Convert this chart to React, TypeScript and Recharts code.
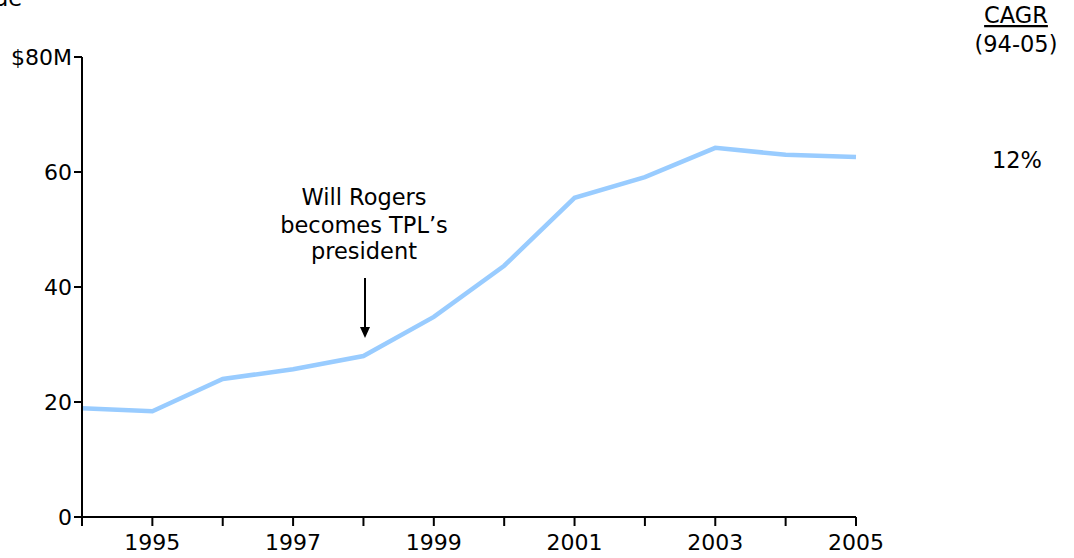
import { LineChart, Line, XAxis, YAxis } from "recharts";

const years = [1994, 1995, 1996, 1997, 1998, 1999, 2000, 2001, 2002, 2003, 2004, 2005];
const revenue = [18.9, 18.4, 24.0, 25.7, 28.0, 34.8, 43.7, 55.5, 59.1, 64.2, 63.0, 62.6];
const yTicks = [0, 20, 40, 60, 80];
const labelledYears = [1995, 1997, 1999, 2001, 2003, 2005];

const data = years.map((year, i) => ({ year, revenue: revenue[i] }));

const font = "Verdana, 'DejaVu Sans', sans-serif";

export default function App() {
  return (
    <div style={{ position: "absolute", left: 0, top: 0, width: 1074, height: 558, fontFamily: font }}>
      <LineChart
        width={1074}
        height={558}
        data={data}
        margin={{ top: 57, right: 218, bottom: 0, left: 0 }}
      >
        <XAxis
          dataKey="year"
          type="number"
          domain={[1994, 2005]}
          ticks={years}
          interval={0}
          height={41}
          tickSize={9}
          tickMargin={8}
          stroke="#000"
          strokeWidth={2}
          tick={{ fill: "#000", fontSize: 22, fontFamily: font }}
          tickFormatter={(v: number) => (labelledYears.includes(v) ? String(v) : "")}
        />
        <YAxis
          type="number"
          domain={[0, 80]}
          ticks={yTicks}
          width={82}
          tickSize={8}
          stroke="#000"
          strokeWidth={2}
          tick={{ fill: "#000", fontSize: 22, fontFamily: font }}
          tickFormatter={(v: number) => (v === 80 ? "$80M" : String(v))}
        />
        <Line
          type="linear"
          dataKey="revenue"
          stroke="#99ccff"
          strokeWidth={4.5}
          dot={false}
          isAnimationActive={false}
        />
      </LineChart>
      <svg
        width={1074}
        height={558}
        style={{ position: "absolute", left: 0, top: 0, pointerEvents: "none" }}
        fontFamily={font}
        fontSize={22.5}
      >
        <text x={22} y={6} textAnchor="end" fill="#000">Revenue</text>
        <text x={1016} y={23} textAnchor="middle" fill="#000" textDecoration="underline">CAGR</text>
        <text x={1016} y={52} textAnchor="middle" fill="#000">(94-05)</text>
        <text x={1017} y={168} textAnchor="middle" fill="#000">12%</text>
        <text x={364} y={205} textAnchor="middle" fill="#000">Will Rogers</text>
        <text x={364} y={233} textAnchor="middle" fill="#000">becomes TPL’s</text>
        <text x={364} y={259} textAnchor="middle" fill="#000">president</text>
        <line x1={365} y1={278} x2={365} y2={328} stroke="#000" strokeWidth={2} />
        <path d="M360,327 L370,327 L365,338 z" fill="#000" />
      </svg>
    </div>
  );
}
